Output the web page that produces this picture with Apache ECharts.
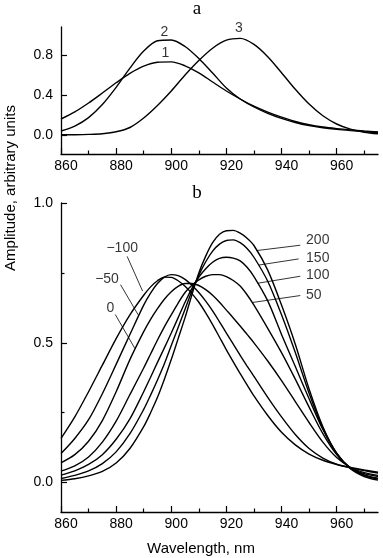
<!DOCTYPE html>
<html><head><meta charset="utf-8">
<script src="https://cdn.jsdelivr.net/npm/echarts@6/dist/echarts.min.js"></script>
<style>html,body{margin:0;padding:0;background:#fff}#c{width:383px;height:558px}</style>
</head><body><div id="c"></div>
<script>
// ---- data ----
// panel a (5 nm steps)
const wavelengthsA = [860,865,870,875,880,885,890,895,900,905,910,915,920,925,930,935,940,945,950,955,960,965,970,975];
const aCurve1 = [0.16,0.231,0.32,0.42,0.522,0.616,0.688,0.727,0.731,0.692,0.622,0.53,0.44,0.36,0.288,0.228,0.178,0.135,0.103,0.08,0.064,0.051,0.04,0.03];
const aCurve2 = [0.04,0.089,0.174,0.305,0.477,0.669,0.839,0.942,0.95,0.885,0.765,0.62,0.47,0.36,0.28,0.217,0.166,0.125,0.094,0.072,0.056,0.044,0.034,0.025];
const aCurve3 = [0.002,0.003,0.006,0.013,0.032,0.075,0.17,0.295,0.44,0.6,0.745,0.868,0.948,0.966,0.906,0.783,0.623,0.457,0.309,0.192,0.11,0.058,0.028,0.012];
// panel b (denser around the peaks)
const wavelengthsB = [860,865,870,875,880,885,890,892.5,895,897.5,900,902.5,905,907.5,910,912.5,915,917.5,920,922.5,925,927.5,930,935,940,945,950,955,960,965,970,975];
const bMinus100 = [0.158,0.235,0.325,0.42,0.515,0.6,0.67,0.7,0.722,0.735,0.734,0.722,0.702,0.676,0.645,0.607,0.565,0.52,0.475,0.432,0.39,0.35,0.31,0.24,0.18,0.135,0.102,0.08,0.065,0.054,0.045,0.037];
const bMinus50  = [0.104,0.158,0.225,0.318,0.423,0.53,0.635,0.678,0.712,0.735,0.744,0.74,0.727,0.706,0.68,0.649,0.614,0.575,0.535,0.495,0.455,0.417,0.38,0.305,0.235,0.172,0.122,0.088,0.066,0.053,0.043,0.034];
const bZero     = [0.071,0.1,0.148,0.222,0.325,0.44,0.54,0.584,0.622,0.656,0.683,0.702,0.712,0.712,0.705,0.69,0.67,0.645,0.617,0.589,0.56,0.53,0.5,0.435,0.365,0.29,0.215,0.145,0.09,0.055,0.036,0.026];
const bPlus50   = [0.041,0.06,0.092,0.145,0.22,0.315,0.41,0.46,0.51,0.557,0.6,0.642,0.68,0.706,0.725,0.738,0.744,0.744,0.737,0.723,0.703,0.672,0.635,0.552,0.465,0.37,0.27,0.175,0.1,0.052,0.032,0.022];
const bPlus100  = [0.027,0.042,0.065,0.1,0.155,0.228,0.325,0.377,0.43,0.482,0.535,0.59,0.645,0.695,0.735,0.765,0.788,0.802,0.806,0.803,0.793,0.77,0.737,0.65,0.53,0.415,0.3,0.19,0.105,0.052,0.028,0.016];
const bPlus150  = [0.015,0.026,0.042,0.068,0.11,0.175,0.262,0.313,0.367,0.425,0.49,0.555,0.62,0.685,0.742,0.79,0.828,0.853,0.866,0.868,0.858,0.837,0.806,0.72,0.6,0.465,0.32,0.195,0.105,0.052,0.026,0.013];
const bPlus200  = [0.008,0.014,0.024,0.04,0.07,0.122,0.2,0.25,0.305,0.37,0.44,0.515,0.59,0.672,0.75,0.81,0.858,0.888,0.901,0.902,0.892,0.874,0.848,0.76,0.635,0.495,0.335,0.2,0.105,0.05,0.022,0.009];
// ticks
const xTickLabels = [860,880,900,920,940,960];
const xMinorTicks = [870,890,910,930,950,970];
const aYTickLabels = [0,0.4,0.8];
const bYTickLabels = [0,0.5,1.0];
const bYMinorTicks = [0.25,0.75];
// annotations (data coordinates)
const aCurveLabels = [[897.9,0.82,'1'],[897.5,1.03,'2'],[924.5,1.065,'3']];
const bLeftLabels = [[882.2,0.837,'\u2212100'],[876.7,0.729,'\u221250'],[877.9,0.625,'0']];
const bRightLabels = [[948.9,0.866,'200'],[948.9,0.804,'150'],[948.9,0.741,'100'],[948.9,0.67,'50']];
const bLeaders = [
  [[884.0,0.809],[889.6,0.685]],
  [[881.6,0.708],[888.0,0.6]],
  [[879.7,0.601],[886.8,0.48]],
  [[946.8,0.849],[931.1,0.83]],
  [[946.2,0.80],[931.7,0.778]],
  [[946.8,0.738],[931.3,0.713]],
  [[946.8,0.669],[929.3,0.644]]
];

// ---- chart ----
const FONT = '"Liberation Sans", Arial, sans-serif';
const black = '#000';
function zip(xs,arr){ return xs.map((w,i)=>[w,arr[i]]); }
function mainX(g){
  return {type:'value', gridIndex:g, position:'bottom', min:860, max:975,
    axisLine:{show:true,onZero:false,lineStyle:{color:black,width:1.3}},
    axisTick:{show:true,inside:true,length:6,customValues:xTickLabels,lineStyle:{color:black,width:1.2}},
    axisLabel:{customValues:xTickLabels,margin:5,fontSize:14,color:black,fontFamily:FONT,padding:[0,0,0,10]},
    splitLine:{show:false}};
}
function minorX(g){
  return {type:'value', gridIndex:g, position:'bottom', min:860, max:975,
    axisLine:{show:false,onZero:false},
    axisTick:{show:true,inside:true,length:3.5,customValues:xMinorTicks,lineStyle:{color:black,width:1.2}},
    axisLabel:{show:false}, splitLine:{show:false}};
}
function mainY(g,min,max,labels){
  return {type:'value', gridIndex:g, position:'left', min:min, max:max,
    axisLine:{show:true,onZero:false,lineStyle:{color:black,width:1.3}},
    axisTick:{show:true,inside:true,length:6,customValues:labels,lineStyle:{color:black,width:1.2}},
    axisLabel:{customValues:labels,margin:8,fontSize:14,color:black,fontFamily:FONT,formatter:v=>v.toFixed(1)},
    splitLine:{show:false}};
}
function lineSeries(xs,arr,xi,yi){
  return {type:'line', xAxisIndex:xi, yAxisIndex:yi, data:zip(xs,arr), showSymbol:false, smooth:0.3,
    lineStyle:{color:black,width:1.4}, silent:true, animation:false};
}
function labelSeries(items,xi,yi,align){
  return {type:'scatter', xAxisIndex:xi, yAxisIndex:yi, symbolSize:0, silent:true, animation:false,
    data:items.map(d=>({value:[d[0],d[1]],name:d[2]})),
    label:{show:true,position:'inside',align:align,verticalAlign:'middle',formatter:p=>p.name,
      fontSize:14,color:black,fontFamily:FONT}};
}
const series = [
  lineSeries(wavelengthsA,aCurve1,0,0), lineSeries(wavelengthsA,aCurve2,0,0), lineSeries(wavelengthsA,aCurve3,0,0),
  lineSeries(wavelengthsB,bMinus100,2,1), lineSeries(wavelengthsB,bMinus50,2,1), lineSeries(wavelengthsB,bZero,2,1),
  lineSeries(wavelengthsB,bPlus50,2,1), lineSeries(wavelengthsB,bPlus100,2,1), lineSeries(wavelengthsB,bPlus150,2,1), lineSeries(wavelengthsB,bPlus200,2,1),
  labelSeries(aCurveLabels,0,0,'center'),
  labelSeries(bLeftLabels,2,1,'center'),
  labelSeries(bRightLabels,2,1,'left')
];
bLeaders.forEach(seg=>series.push({type:'line',xAxisIndex:2,yAxisIndex:1,data:seg,showSymbol:false,
  lineStyle:{color:black,width:0.8},silent:true,animation:false}));

const chart = echarts.init(document.getElementById('c'),null,{renderer:'canvas'});
chart.setOption({
  animation:false,
  backgroundColor:'#fff',
  grid:[
    {left:61,right:5,top:27,height:127},
    {left:61,right:5,top:203,height:309}
  ],
  xAxis:[mainX(0),minorX(0),mainX(1),minorX(1)],
  yAxis:[
    mainY(0,-0.19,1.08,aYTickLabels),
    mainY(1,-0.105,1.0,bYTickLabels),
    {type:'value',gridIndex:1,position:'left',min:-0.105,max:1.0,
      axisLine:{show:false,onZero:false},
      axisTick:{show:true,inside:true,length:3.5,customValues:bYMinorTicks,lineStyle:{color:black,width:1.2}},
      axisLabel:{show:false},splitLine:{show:false}}
  ],
  graphic:[
    {type:'text',x:197,y:9,style:{text:'a',font:'19px "Liberation Serif", serif',fill:black,align:'center',verticalAlign:'middle'}},
    {type:'text',x:197,y:193,style:{text:'b',font:'19px "Liberation Serif", serif',fill:black,align:'center',verticalAlign:'middle'}},
    {type:'text',x:11,y:188,rotation:Math.PI/2,style:{text:'Amplitude, arbitrary units',font:'15px "Liberation Sans", Arial, sans-serif',fill:black,align:'center',verticalAlign:'middle'}},
    {type:'text',x:201,y:549,style:{text:'Wavelength, nm',font:'15px "Liberation Sans", Arial, sans-serif',fill:black,align:'center',verticalAlign:'middle'}}
  ],
  series:series
});
</script></body></html>
